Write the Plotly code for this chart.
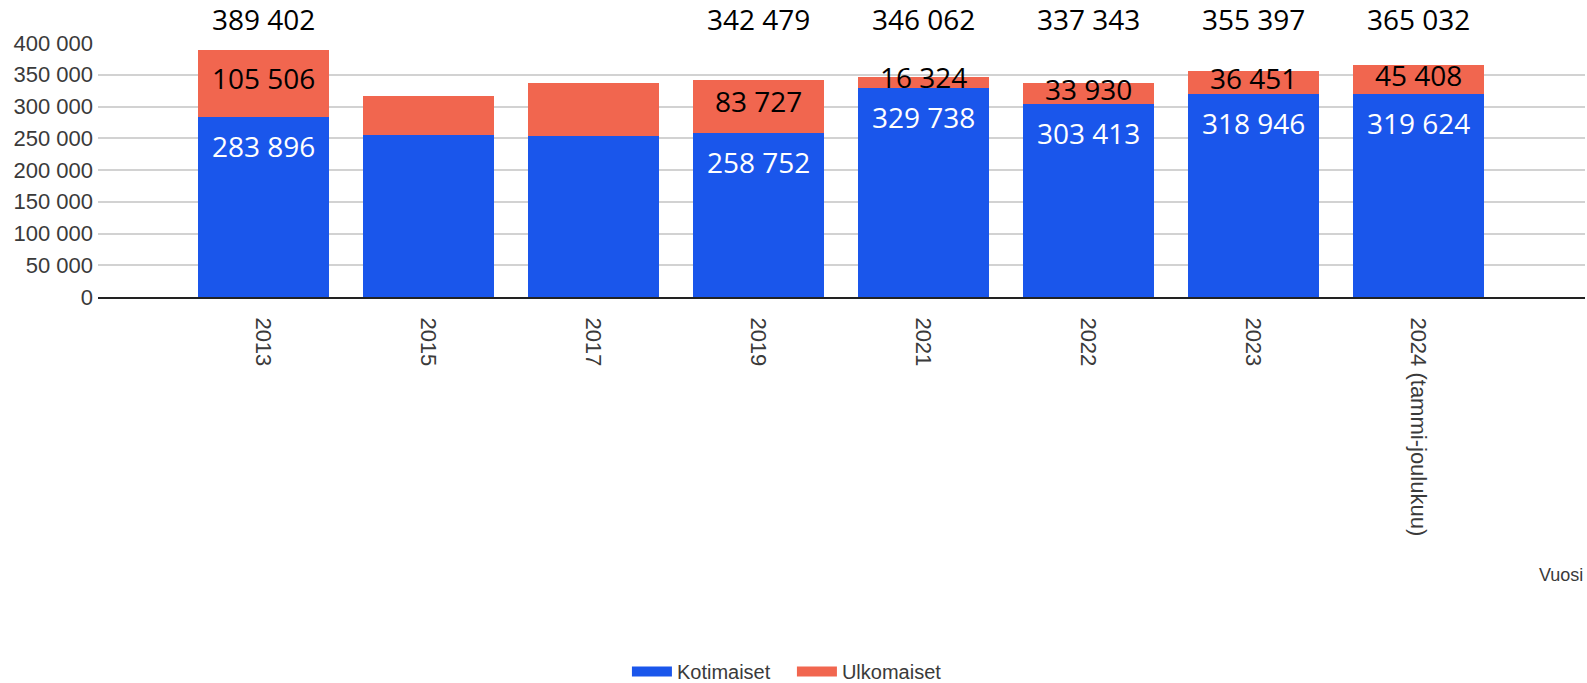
import plotly.graph_objects as go

years = ["2013", "2015", "2017", "2019", "2021", "2022", "2023", "2024 (tammi-joulukuu)"]
kotimaiset = [283896, 255500, 253000, 258752, 329738, 303413, 318946, 319624]
ulkomaiset = [105506, 61000, 84000, 83727, 16324, 33930, 36451, 45408]
totals = [389402, None, None, 342479, 346062, 337343, 355397, 365032]
labelled = [True, False, False, True, True, True, True, True]

BLUE = "#1a56eb"
RED = "#f1664f"
FAMILY = "Liberation Sans, Arial, sans-serif"
TICK_FONT = dict(family=FAMILY, size=22, color="#3a3a3a")
LEGEND_FONT = dict(family=FAMILY, size=20, color="#3a3a3a")
LABEL_FONT = "Open Sans, sans-serif"


def fmt(v):
    return f"{v:,}".replace(",", " ")


fig = go.Figure()
fig.add_trace(go.Bar(x=years, y=kotimaiset, name="Kotimaiset", showlegend=False,
                     marker=dict(color=BLUE, line_width=0)))
fig.add_trace(go.Bar(x=years, y=ulkomaiset, name="Ulkomaiset", showlegend=False,
                     marker=dict(color=RED, line_width=0)))
# legend entries drawn as wide swatches
fig.add_trace(go.Scatter(x=[None], y=[None], mode="lines", name="Kotimaiset",
                         line=dict(color=BLUE, width=16)))
fig.add_trace(go.Scatter(x=[None], y=[None], mode="lines", name="Ulkomaiset",
                         line=dict(color=RED, width=16)))

annotations = []
for i, (k, u, t, show) in enumerate(zip(kotimaiset, ulkomaiset, totals, labelled)):
    if not show:
        continue
    annotations.append(dict(x=i, y=k, xref="x", yref="y", text=fmt(k), showarrow=False,
                            yanchor="middle", yshift=-29,
                            font=dict(family=LABEL_FONT, size=28, color="white")))
    annotations.append(dict(x=i, y=k + u / 2, xref="x", yref="y", text=fmt(u), showarrow=False,
                            yanchor="middle", yshift=5,
                            font=dict(family=LABEL_FONT, size=28, color="black")))
    if t is not None:
        annotations.append(dict(x=i, y=1, xref="x", yref="paper", text=fmt(t), showarrow=False,
                                yanchor="middle", yshift=24,
                                font=dict(family=LABEL_FONT, size=28, color="black")))

annotations.append(dict(x=1, y=-1.094, xref="paper", yref="paper", text="Vuosi", showarrow=False,
                        xanchor="right", yanchor="middle",
                        font=dict(family=FAMILY, size=18, color="#3a3a3a")))

fig.update_layout(
    barmode="stack",
    bargap=0.206,
    width=1587,
    height=683,
    margin=dict(l=98, r=2, t=43, b=386),
    plot_bgcolor="white",
    paper_bgcolor="white",
    separators=", ",
    annotations=annotations,
    showlegend=True,
    legend=dict(orientation="h", x=0.3557, xanchor="left", yref="container", y=0.017,
                yanchor="middle", font=LEGEND_FONT, traceorder="normal", itemwidth=40,
                entrywidth=110, tracegroupgap=0),
    xaxis=dict(range=[-1.0, 8.01], tickangle=90, tickfont=TICK_FONT, showgrid=False,
               showline=True, linecolor="#222", linewidth=2, ticks="", ticklabelstandoff=14,
               fixedrange=True),
    yaxis=dict(range=[0, 400000], dtick=50000, tickformat=",d", tickfont=TICK_FONT,
               showgrid=True, gridcolor="#d2d2d2", gridwidth=2, zeroline=False,
               ticks="", ticklabelstandoff=4, fixedrange=True),
)

fig.write_html("out.html", config={"displayModeBar": False},
               post_script="document.body.style.margin='0';document.body.style.overflow='hidden';")
